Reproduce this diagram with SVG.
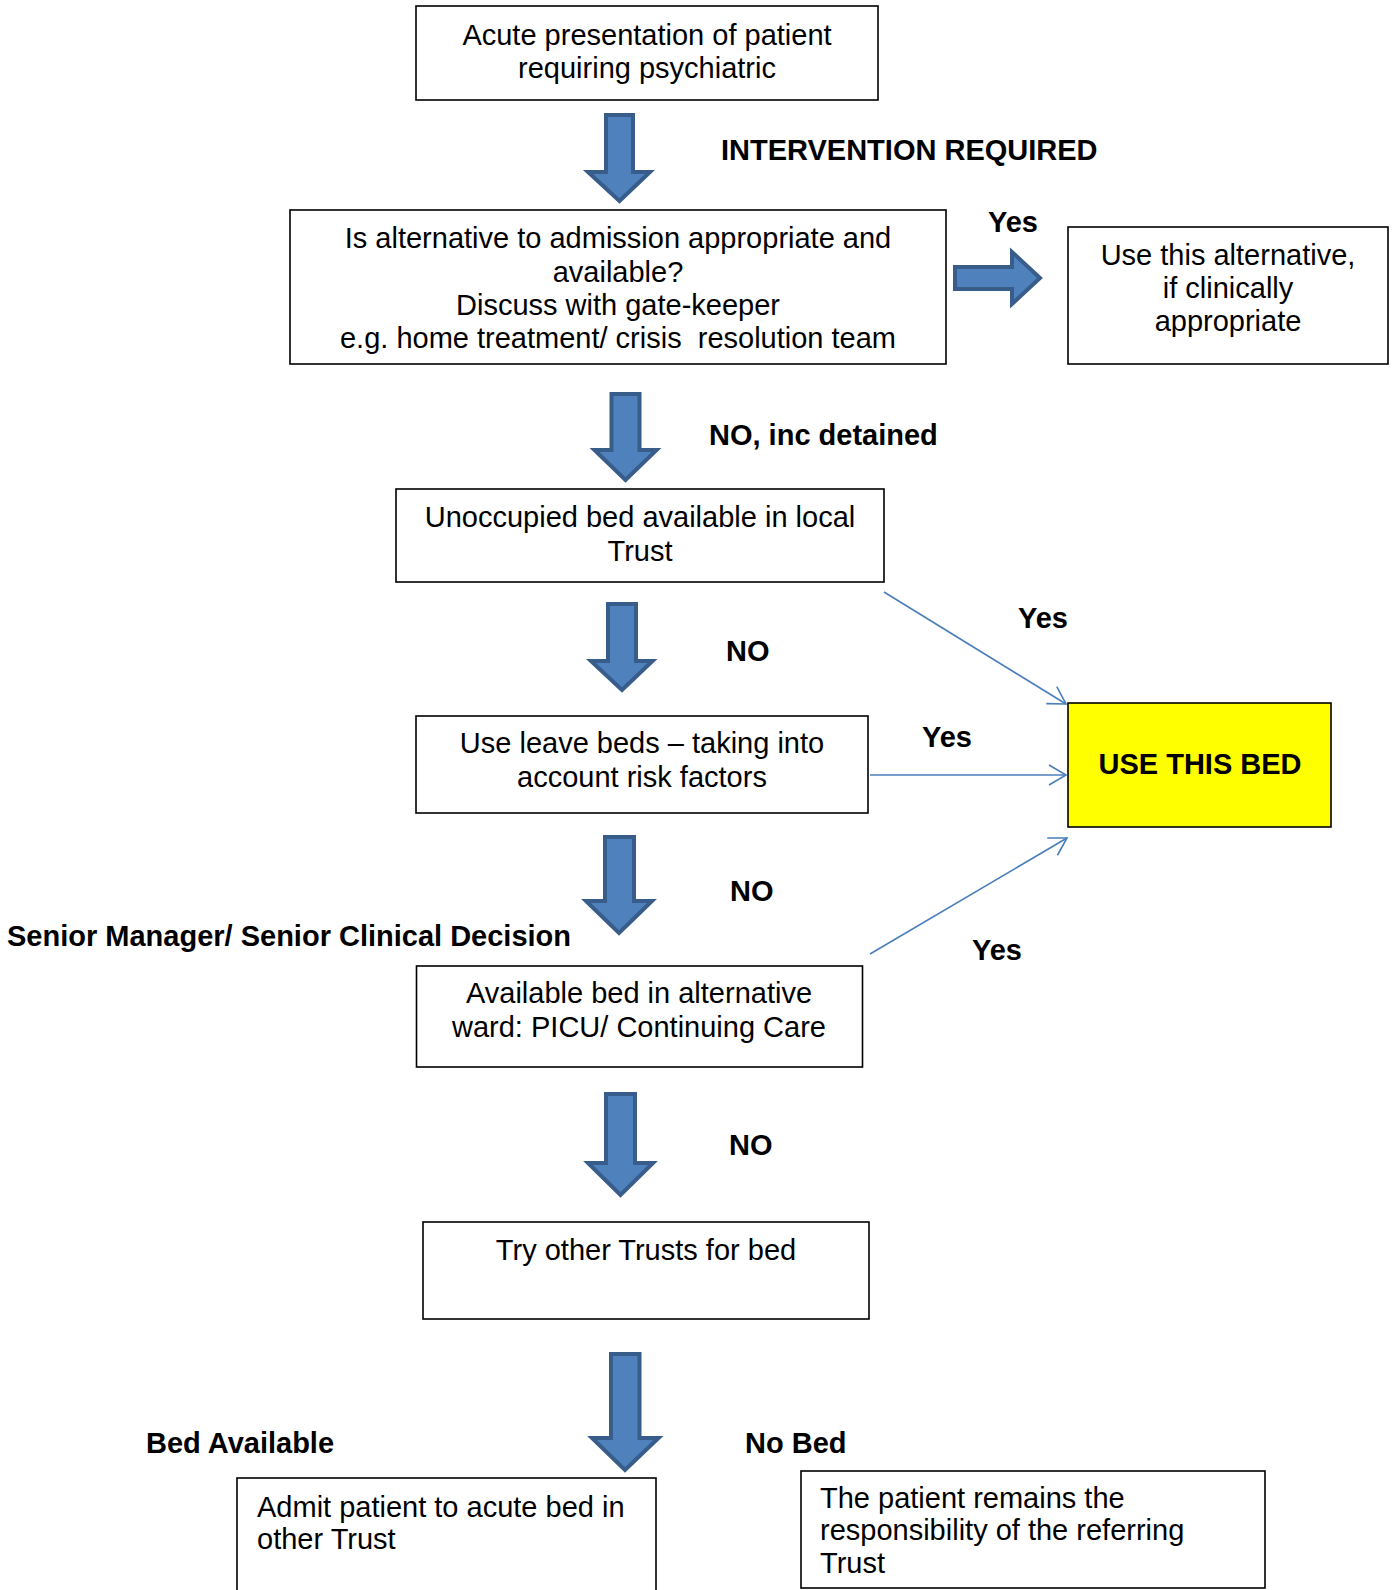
<svg xmlns="http://www.w3.org/2000/svg" width="1397" height="1590" viewBox="0 0 1397 1590">
<style>
.box{fill:#fff;stroke:#000;stroke-width:1.6}
.t{font-family:"Liberation Sans",Arial,sans-serif;font-size:29px;fill:#000}
.c{text-anchor:middle}
.b{font-family:"Liberation Sans",Arial,sans-serif;font-size:29px;font-weight:bold;fill:#000}
.blk{fill:#4F81BD;stroke:#385D8A;stroke-width:4;stroke-linejoin:miter}
.con{fill:none;stroke:#4A7EBB;stroke-width:1.6}
</style>
<defs>
<marker id="open" viewBox="-20 -12 22 24" markerWidth="22" markerHeight="24" refX="0" refY="0" orient="auto" markerUnits="userSpaceOnUse">
<path d="M-17,-10 L0,0 L-17,10" fill="none" stroke="#4A7EBB" stroke-width="1.6"/>
</marker>
</defs>
<rect width="1397" height="1590" fill="#fff"/>

<g id="n1">
<rect class="box" x="416" y="6" width="462" height="94"/>
<text class="t c" x="647" y="45">Acute presentation of patient</text>
<text class="t c" x="647" y="78">requiring psychiatric</text>
</g>

<g id="n2">
<rect class="box" x="290" y="210" width="656" height="154"/>
<text class="t c" x="618" y="248">Is alternative to admission appropriate and</text>
<text class="t c" x="618" y="282">available?</text>
<text class="t c" x="618" y="315">Discuss with gate-keeper</text>
<text class="t c" x="618" y="348" style="white-space:pre">e.g. home treatment/ crisis  resolution team</text>
</g>

<g id="n3">
<rect class="box" x="1068" y="227" width="320" height="137"/>
<text class="t c" x="1228" y="265">Use this alternative,</text>
<text class="t c" x="1228" y="298">if clinically</text>
<text class="t c" x="1228" y="331">appropriate</text>
</g>

<g id="n4">
<rect class="box" x="396" y="489" width="488" height="93"/>
<text class="t c" x="640" y="527">Unoccupied bed available in local</text>
<text class="t c" x="640" y="561">Trust</text>
</g>

<g id="n5">
<rect class="box" x="416" y="716" width="452" height="97"/>
<text class="t c" x="642" y="753">Use leave beds – taking into</text>
<text class="t c" x="642" y="787">account risk factors</text>
</g>

<g id="n6">
<rect x="1068" y="703" width="263" height="124" fill="#FFFF00" stroke="#000" stroke-width="1.6"/>
<text class="b" x="1200" y="774" text-anchor="middle">USE THIS BED</text>
</g>

<g id="n7">
<rect class="box" x="416.5" y="966" width="446" height="101"/>
<text class="t c" x="639" y="1003">Available bed in alternative</text>
<text class="t c" x="639" y="1037">ward: PICU/ Continuing Care</text>
</g>

<g id="n8">
<rect class="box" x="423" y="1222" width="446" height="97"/>
<text class="t c" x="646" y="1260">Try other Trusts for bed</text>
</g>

<g id="n9">
<rect class="box" x="237" y="1478" width="419" height="130"/>
<text class="t" x="257" y="1517">Admit patient to acute bed in</text>
<text class="t" x="257" y="1549">other Trust</text>
</g>

<g id="n10">
<rect class="box" x="801" y="1471" width="464" height="117"/>
<text class="t" x="820" y="1508">The patient remains the</text>
<text class="t" x="820" y="1540">responsibility of the referring</text>
<text class="t" x="820" y="1573">Trust</text>
</g>

<g id="connectors">
<path class="blk" d="M606,115 H633 V172 H650 L619.5,201 L588,172 H606 Z"/>
<path class="blk" d="M611.5,394 H639.5 V450 H656.5 L625.5,480 L594.5,450 H611.5 Z"/>
<path class="blk" d="M608,604 H636 V661 H652.5 L622,690 L591,661 H608 Z"/>
<path class="blk" d="M605,837 H634 V901 H652 L619,933 L586,901 H605 Z"/>
<path class="blk" d="M606,1094 H635 V1163 H653 L620.5,1195 L588,1163 H606 Z"/>
<path class="blk" d="M611,1354 H639.5 V1438 H658.5 L625,1470 L592,1438 H611 Z"/>
<path class="blk" d="M955,267 H1012 V252 L1040,278 L1012,304 V289 H955 Z"/>
<line class="con" x1="884" y1="592" x2="1066" y2="704" marker-end="url(#open)"/>
<line class="con" x1="870" y1="775" x2="1066" y2="775" marker-end="url(#open)"/>
<line class="con" x1="870" y1="954" x2="1067" y2="838" marker-end="url(#open)"/>
</g>

<g id="labels">
<text class="b" x="721" y="160">INTERVENTION REQUIRED</text>
<text class="b" x="988" y="232">Yes</text>
<text class="b" x="709" y="445">NO, inc detained</text>
<text class="b" x="1018" y="628">Yes</text>
<text class="b" x="726" y="661">NO</text>
<text class="b" x="922" y="747">Yes</text>
<text class="b" x="730" y="901">NO</text>
<text class="b" x="7" y="946">Senior Manager/ Senior Clinical Decision</text>
<text class="b" x="972" y="960">Yes</text>
<text class="b" x="729" y="1155">NO</text>
<text class="b" x="146" y="1453">Bed Available</text>
<text class="b" x="745" y="1453">No Bed</text>
</g>
</svg>
